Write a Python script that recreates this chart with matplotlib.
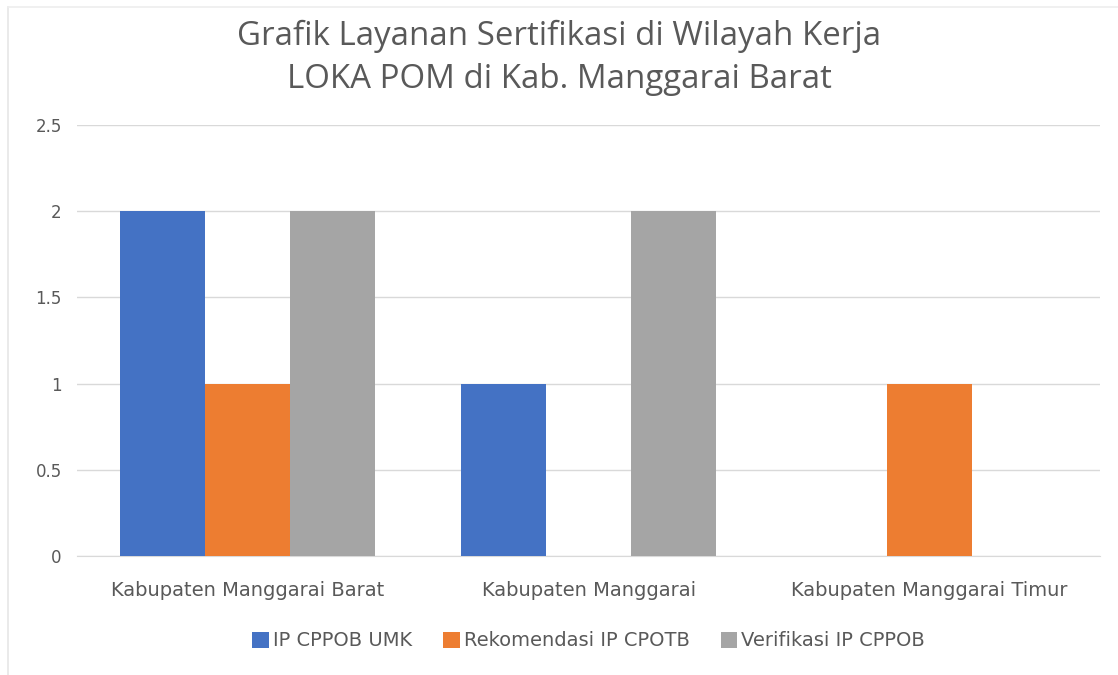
import matplotlib
matplotlib.use("Agg")
import matplotlib.pyplot as plt
import numpy as np
from matplotlib.lines import Line2D

categories = ["Kabupaten Manggarai Barat", "Kabupaten Manggarai", "Kabupaten Manggarai Timur"]
series_names = ["IP CPPOB UMK", "Rekomendasi IP CPOTB", "Verifikasi IP CPPOB"]
ip_cppob_umk = [2, 1, 0]
rekomendasi_ip_cpotb = [1, 0, 1]
verifikasi_ip_cppob = [2, 2, 0]
yticks = [0, 0.5, 1, 1.5, 2, 2.5]
ytick_labels = ["0", "0.5", "1", "1.5", "2", "2.5"]

colors = ["#4472C4", "#ED7D31", "#A5A5A5"]
text_color = "#595959"
small_font = ['DejaVu Sans']
plt.rcParams['font.family'] = ['Open Sans', 'DejaVu Sans']

fig = plt.figure(figsize=(11.18, 6.75), dpi=100)
ax = fig.add_axes([0.0689, 0.1763, 0.9151, 0.6385])

x = np.arange(len(categories))
w = 0.25
for i, (vals, name) in enumerate(zip([ip_cppob_umk, rekomendasi_ip_cpotb, verifikasi_ip_cppob], series_names)):
    ax.bar(x + (i - 1) * w, vals, width=w, color=colors[i], label=name, zorder=3)

ax.set_xlim(-0.5, len(categories) - 0.5)
ax.set_ylim(0, 2.5)
ax.set_yticks(yticks)
ax.set_yticklabels(ytick_labels, family=small_font, fontsize=12)
ax.set_xticks(x)
ax.set_xticklabels(categories, family=small_font, fontsize=14)
ax.grid(axis='y', color='#D9D9D9', linewidth=1, zorder=0)
for s in ['top', 'right', 'left']:
    ax.spines[s].set_visible(False)
ax.spines['bottom'].set_color('#D9D9D9')
ax.tick_params(axis='both', length=0, colors=text_color)
ax.tick_params(axis='y', pad=11)
ax.tick_params(axis='x', pad=18)

fig.text(0.5, 0.946, "Grafik Layanan Sertifikasi di Wilayah Kerja", ha='center', va='center',
         fontsize=23.8, color=text_color)
fig.text(0.5, 0.882, "LOKA POM di Kab. Manggarai Barat", ha='center', va='center',
         fontsize=23.8, color=text_color)

leg = ax.legend(loc='center', bbox_to_anchor=(0.5, -0.197), ncol=3, frameon=False,
                prop={'family': small_font, 'size': 14},
                handlelength=0.85, handleheight=0.9, handletextpad=0.2,
                columnspacing=1.6)
for t in leg.get_texts():
    t.set_color(text_color)

# faint image border lines
fig.add_artist(Line2D([0.0072, 0.0072], [0, 0.99], color='#E6E6E6', linewidth=1.2))
fig.add_artist(Line2D([0.0072, 1], [0.99, 0.99], color='#EEEEEE', linewidth=1.2))

fig.savefig("out.png", dpi=100)
